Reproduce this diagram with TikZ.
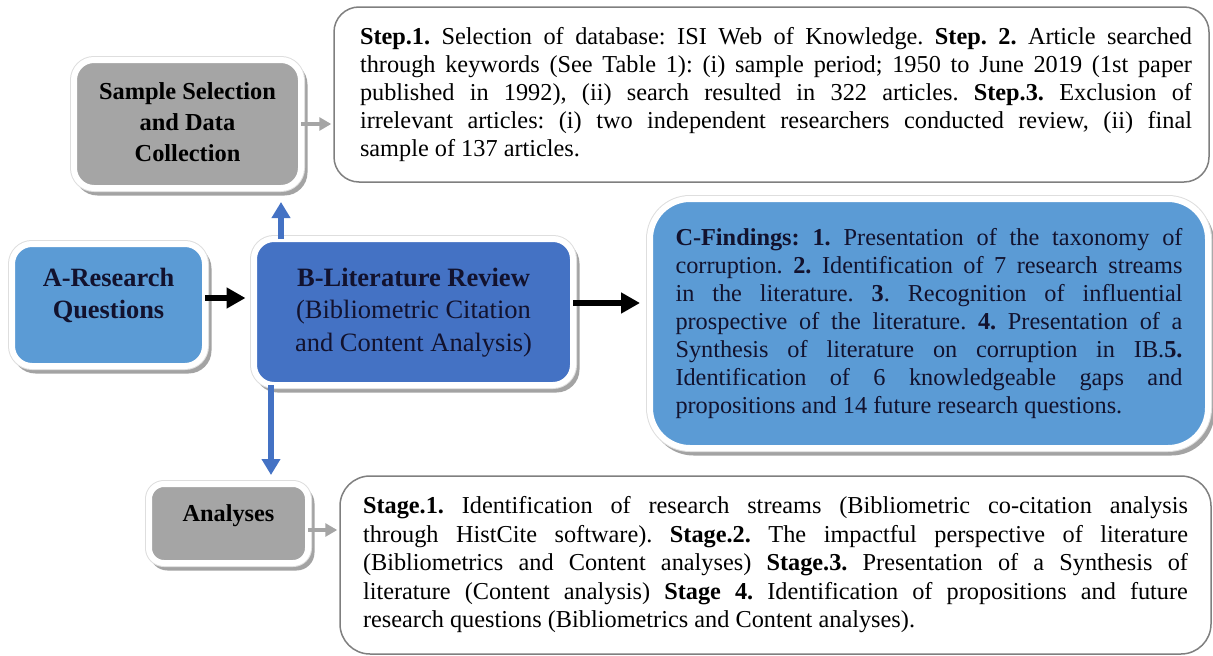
\documentclass[tikz,border=0pt]{standalone}
\usepackage{fontspec}
\setmainfont{Liberation Serif}
\usetikzlibrary{arrows.meta}
\frenchspacing
\definecolor{lblue}{HTML}{5B9BD5}
\definecolor{dblue}{HTML}{4472C4}
\definecolor{gbox}{HTML}{A5A5A5}
\definecolor{navy}{HTML}{12122E}
\definecolor{bord}{HTML}{7F7F7F}
\definecolor{shad}{HTML}{A3A3A3}
\definecolor{rimedge}{HTML}{DEDEDE}
\tikzset{
  colbox/.style={rectangle, rounded corners=#1, draw=white, line width=6pt, inner sep=0pt, text=navy,
    preaction={draw=shad, fill=shad, line width=6pt, transform canvas={shift={(3.5pt,-4.5pt)}}},
    preaction={draw=rimedge, line width=8pt}},
  wbox/.style={rectangle, rounded corners=#1, draw=bord, line width=1.5pt, fill=white, inner sep=0pt, text=black},
  blkarrow/.style={draw=black, line width=6pt, -{Triangle[width=20pt,length=19pt]}},
  bluarrow/.style={draw=dblue, line width=6pt, -{Triangle[width=18pt,length=16pt]}},
  grayarrow/.style={draw=gbox, line width=4pt, -{Triangle[width=13pt,length=12pt]}},
}
\begin{document}
\begin{tikzpicture}[x=1pt,y=-1pt]
\useasboundingbox (0,0) rectangle (1213,656);

% top text box
\node[wbox=25pt, minimum width=875pt, minimum height=175pt, font=\fontsize{24.3}{28}\selectfont] (top) at (771.5,94.5)
{\hspace*{9pt}\begin{tabular}{@{}l@{}}
\makebox[832pt][s]{\textbf{Step.1.} Selection of database: ISI Web of Knowledge. \textbf{Step. 2.} Article searched}\\
\makebox[832pt][s]{through keywords (See Table 1): (i) sample period; 1950 to June 2019 (1st paper}\\
\makebox[832pt][s]{published in 1992), (ii) search resulted in 322 articles. \textbf{Step.3.} Exclusion of}\\
\makebox[832pt][s]{irrelevant articles: (i) two independent researchers conducted review, (ii) final}\\
sample of 137 articles.
\end{tabular}};

% bottom text box
\node[wbox=30pt, minimum width=871pt, minimum height=178pt, font=\fontsize{24.3}{28.5}\selectfont] (bot) at (775.5,565)
{\begin{tabular}{@{}l@{}}
\makebox[825pt][s]{\textbf{Stage.1.} Identification of research streams (Bibliometric co-citation analysis}\\
\makebox[825pt][s]{through HistCite software). \textbf{Stage.2.} The impactful perspective of literature}\\
\makebox[825pt][s]{(Bibliometrics and Content analyses) \textbf{Stage.3.} Presentation of a Synthesis of}\\
\makebox[825pt][s]{literature (Content analysis) \textbf{Stage 4.} Identification of propositions and future}\\
research questions (Bibliometrics and Content analyses).
\end{tabular}};

% sample selection
\node[colbox=20pt, fill=gbox, text=black, minimum width=227pt, minimum height=128pt,
      font=\bfseries\fontsize{24.4}{31}\selectfont] (samp) at (187.5,124)
{\begin{tabular}{@{}c@{}}Sample Selection\\and Data\\Collection\end{tabular}};

% A
\node[colbox=20pt, fill=lblue, minimum width=193pt, minimum height=122pt,
      font=\bfseries\fontsize{26.4}{32}\selectfont] (A) at (108.5,305)
{\raisebox{9pt}[\height][\depth]{\begin{tabular}{@{}c@{}}A-Research\\Questions\end{tabular}}};

% B
\node[colbox=20pt, fill=dblue, minimum width=319pt, minimum height=146pt,
      font=\fontsize{26.5}{32.5}\selectfont] (B) at (413.5,312)
{\begin{tabular}{@{}c@{}}\textbf{B-Literature Review}\\(Bibliometric Citation\\and Content Analysis)\end{tabular}};

% C
\node[colbox=40pt, fill=lblue, minimum width=558pt, minimum height=249pt,
      font=\fontsize{24.3}{28}\selectfont] (C) at (929,323.5)
{\begin{tabular}{@{}l@{}}
\makebox[507pt][s]{\textbf{C-Findings: 1.} Presentation of the taxonomy of}\\
\makebox[507pt][s]{corruption. \textbf{2.} Identification of 7 research streams}\\
\makebox[507pt][s]{in the literature. \textbf{3}. Recognition of influential}\\
\makebox[507pt][s]{prospective of the literature. \textbf{4.} Presentation of a}\\
\makebox[507pt][s]{Synthesis of literature on corruption in IB.\textbf{5.}}\\
\makebox[507pt][s]{Identification of 6 knowledgeable gaps and}\\
propositions and 14 future research questions.
\end{tabular}};

% Analyses
\node[colbox=15pt, fill=gbox, text=black, minimum width=159pt, minimum height=79pt,
      font=\bfseries\fontsize{24.3}{29}\selectfont] (an) at (228.5,523.5)
{\raisebox{8pt}[\height][\depth]{Analyses}};

% connectors
\draw[blkarrow, shorten <=-3pt, shorten >=5.5pt] ([yshift=7pt]A.east) -- ([yshift=7pt]A.east -| B.west);
\draw[blkarrow, shorten <=-3pt, shorten >=7pt] ([yshift=9pt]B.east) -- ([yshift=9pt]B.east -| C.west);
\draw[bluarrow, shorten <=-3pt, shorten >=11pt] ([xshift=30pt]B.north west) -- ([xshift=30pt]B.north west |- samp.south);
\draw[bluarrow, shorten <=-3pt, shorten >=6pt] ([xshift=20pt]B.south west) -- ([xshift=20pt]B.south west |- an.north);
\draw[grayarrow, shorten <=-3pt, shorten >=2pt] (samp.east) -- (samp.east -| top.west);
\draw[grayarrow, shorten <=-3pt, shorten >=2pt] ([yshift=-6.5pt]an.east) -- ([yshift=-6.5pt]an.east -| bot.west);
\end{tikzpicture}
\end{document}
